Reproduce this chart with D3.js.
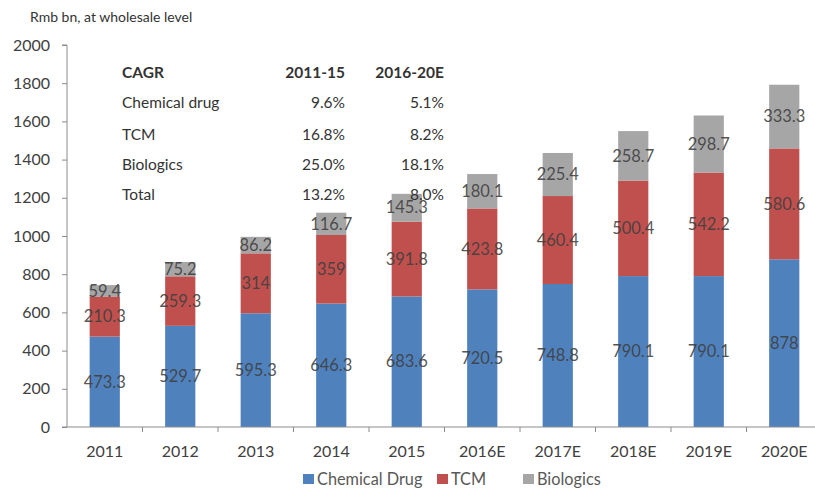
<!DOCTYPE html>
<html>
<head>
<meta charset="utf-8">
<script src="https://cdn.jsdelivr.net/npm/d3@7"></script>
<style>
  html, body { margin: 0; padding: 0; background: #fff; }
  svg { display: block; font-family: Lato, "Open Sans", sans-serif; }
</style>
</head>
<body>
<svg id="chart" width="815" height="492"></svg>
<script>
// China pharmaceutical market by segment, Rmb bn at wholesale level
const years = ["2011", "2012", "2013", "2014", "2015", "2016E", "2017E", "2018E", "2019E", "2020E"];
const chemicalDrug = [473.3, 529.7, 595.3, 646.3, 683.6, 720.5, 748.8, 790.1, 790.1, 878];
const tcm = [210.3, 259.3, 314, 359, 391.8, 423.8, 460.4, 500.4, 542.2, 580.6];
const biologics = [59.4, 75.2, 86.2, 116.7, 145.3, 180.1, 225.4, 258.7, 298.7, 333.3];
const seriesNames = ["Chemical Drug", "TCM", "Biologics"];
const seriesColors = ["#4f81bd", "#c0504d", "#a6a6a6"];
const yTicks = [0, 200, 400, 600, 800, 1000, 1200, 1400, 1600, 1800, 2000];

// CAGR summary table
const cagrHeader = ["CAGR", "2011-15", "2016-20E"];
const cagrRows = ["Chemical drug", "TCM", "Biologics", "Total"];
const cagr2011_15 = ["9.6%", "16.8%", "25.0%", "13.2%"];
const cagr2016_20 = ["5.1%", "8.2%", "18.1%", "8.0%"];

const svg = d3.select("#chart");
const textColor = "#404040";

const x = d3.scaleBand().domain(years).range([67, 822]).paddingInner(0.6).paddingOuter(0.3);
const y = d3.scaleLinear().domain([0, 2000]).range([427, 45]);

// stacked data
const table = years.map((yr, i) => ({ year: yr, "Chemical Drug": chemicalDrug[i], "TCM": tcm[i], "Biologics": biologics[i] }));
const stacked = d3.stack().keys(seriesNames)(table);

// bars
const layers = svg.append("g").selectAll("g").data(stacked).join("g")
  .attr("fill", (d, i) => seriesColors[i]);
layers.selectAll("rect").data(d => d).join("rect")
  .attr("x", d => x(d.data.year))
  .attr("width", x.bandwidth())
  .attr("y", d => y(d[1]))
  .attr("height", d => y(d[0]) - y(d[1]));

// y axis
const yAxis = svg.append("g").attr("transform", "translate(67,0)")
  .call(d3.axisLeft(y).tickValues(yTicks).tickSize(5).tickPadding(12).tickFormat(d3.format("d")));
yAxis.select(".domain").attr("stroke", "#8c8c8c").attr("d", "M0,427V45H-5");
yAxis.selectAll(".tick line").attr("stroke", "#8c8c8c");
yAxis.selectAll("text").attr("font-size", 16).attr("fill", textColor).attr("font-family", "Lato, sans-serif");

// x axis with ticks at category boundaries
const xAxis = svg.append("g").attr("transform", "translate(0,427)");
xAxis.append("line").attr("x1", 62).attr("x2", 815).attr("y1", 0).attr("y2", 0).attr("stroke", "#8c8c8c");
const step = x.step();
xAxis.selectAll("line.b").data(years.slice(1)).join("line").attr("class", "b")
  .attr("x1", d => x(d) + x.bandwidth() / 2 - step / 2)
  .attr("x2", d => x(d) + x.bandwidth() / 2 - step / 2)
  .attr("y1", 0).attr("y2", 5).attr("stroke", "#8c8c8c");
xAxis.selectAll("text").data(years).join("text")
  .attr("x", d => x(d) + x.bandwidth() / 2)
  .attr("y", 30)
  .attr("text-anchor", "middle")
  .attr("font-size", 16)
  .attr("fill", textColor)
  .text(d => d);

// segment value labels, centred in each segment
layers.each(function (layer) {
  d3.select(this).selectAll("text").data(layer).join("text")
    .attr("x", d => x(d.data.year) + x.bandwidth() / 2)
    .attr("y", d => (y(d[0]) + y(d[1])) / 2)
    .attr("dy", "0.35em")
    .attr("text-anchor", "middle")
    .attr("font-size", 16.5)
    .attr("fill", "#3f3f3f")
    .attr("fill-opacity", 0.9)
    .text(d => d.data[layer.key]);
});

// y-axis title
svg.append("text").attr("x", 30).attr("y", 22).attr("font-size", 14).attr("fill", "#333")
  .text("Rmb bn, at wholesale level");

// CAGR table
const tbl = svg.append("g").attr("font-size", 15.5).attr("fill", "#333");
const rowY = [78, 108, 140, 170, 200];
tbl.append("text").attr("x", 122).attr("y", rowY[0]).attr("font-weight", "bold").text(cagrHeader[0]);
tbl.append("text").attr("x", 345).attr("y", rowY[0]).attr("font-weight", "bold").attr("text-anchor", "end").text(cagrHeader[1]);
tbl.append("text").attr("x", 444).attr("y", rowY[0]).attr("font-weight", "bold").attr("text-anchor", "end").text(cagrHeader[2]);
cagrRows.forEach((r, i) => {
  tbl.append("text").attr("x", 122).attr("y", rowY[i + 1]).text(r);
  tbl.append("text").attr("x", 345).attr("y", rowY[i + 1]).attr("text-anchor", "end").text(cagr2011_15[i]);
  tbl.append("text").attr("x", 444).attr("y", rowY[i + 1]).attr("text-anchor", "end").text(cagr2016_20[i]);
});

// legend
const legendX = [303, 437, 523];
const legend = svg.append("g");
seriesNames.forEach((n, i) => {
  legend.append("rect").attr("x", legendX[i]).attr("y", 474).attr("width", 11).attr("height", 10).attr("fill", seriesColors[i]);
  legend.append("text").attr("x", legendX[i] + 14).attr("y", 484.5).attr("font-size", 16.3).attr("fill", "#595959").text(n);
});
</script>
</body>
</html>
